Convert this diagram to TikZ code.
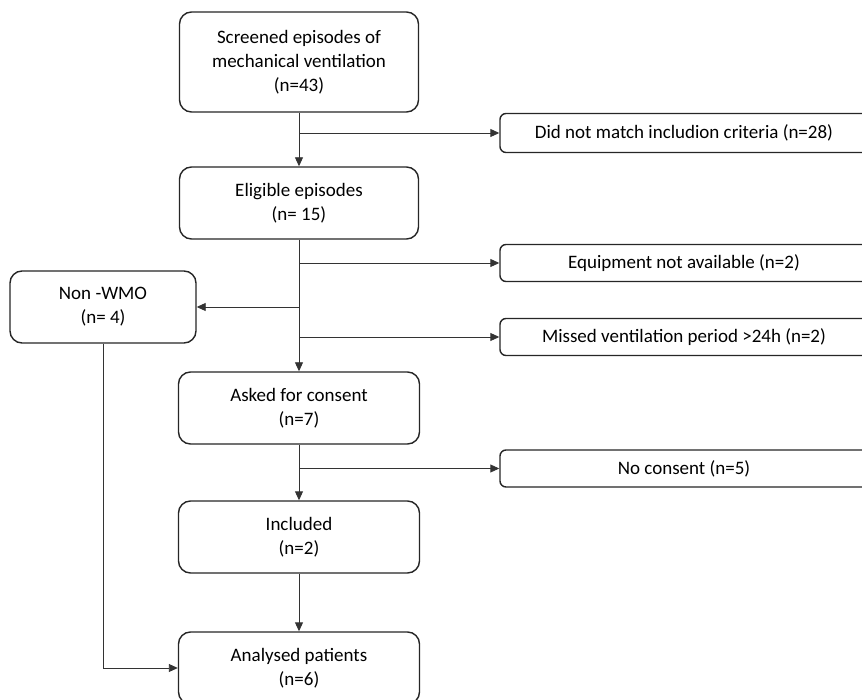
\documentclass[tikz,border=0pt]{standalone}
\usepackage{fontspec}
\setmainfont{Carlito}
\usetikzlibrary{arrows.meta}
\begin{document}
\begin{tikzpicture}[x=1pt,y=-1pt,
  box/.style={draw=black!85,line width=1.4pt,rounded corners=12pt,align=center,
    font=\fontsize{19}{24}\selectfont,inner sep=0pt,fill=white},
  side/.style={draw=black!85,line width=1.4pt,rounded corners=6pt,align=center,
    font=\fontsize{19}{24}\selectfont,inner sep=0pt,minimum width=368pt,minimum height=37pt,fill=white},
  conn/.style={draw=black!80,line width=0.9pt},
  arr/.style={conn,-{Triangle[length=9pt,width=8pt]}}]
\useasboundingbox (0,0) rectangle (862,700);
\node[box,minimum width=239pt,minimum height=100pt] (scr) at (299,62) {Screened episodes of\\mechanical ventilation\\(n=43)};
\node[box,minimum width=239pt,minimum height=72pt] (eli) at (299,203) {Eligible episodes\\(n= 15)};
\node[box,minimum width=186pt,minimum height=72pt] (wmo) at (103,307) {Non -WMO\\(n= 4)};
\node[box,minimum width=241pt,minimum height=72pt] (ask) at (299,408) {Asked for consent\\(n=7)};
\node[box,minimum width=241pt,minimum height=72pt] (inc) at (299,537) {Included\\(n=2)};
\node[box,minimum width=241pt,minimum height=72pt] (ana) at (299,668) {Analysed patients\\(n=6)};
\node[side,minimum height=39pt] (dnm) at (684,133) {Did not match includion criteria (n=28)};
\node[side] (equ) at (684,263) {Equipment not available (n=2)};
\node[side] (mis) at (684,337) {Missed ventilation period >24h (n=2)};
\node[side] (noc) at (684,468.5) {No consent (n=5)};
\coordinate (b1) at (299,133);
\coordinate (b2) at (299,263);
\coordinate (b3) at (299,307);
\coordinate (b4) at (299,337);
\coordinate (b5) at (299,468.5);
\draw[arr] (scr.south) -- (eli.north);
\draw[arr] (b1) -- (dnm.west);
\draw[arr] (eli.south) -- (ask.north);
\draw[arr] (b2) -- (equ.west);
\draw[arr] (b3) -- (wmo.east);
\draw[arr] (b4) -- (mis.west);
\draw[arr] (ask.south) -- (inc.north);
\draw[arr] (b5) -- (noc.west);
\draw[arr] (inc.south) -- (ana.north);
\draw[arr] (wmo.south) |- (ana.west);
\end{tikzpicture}
\end{document}
